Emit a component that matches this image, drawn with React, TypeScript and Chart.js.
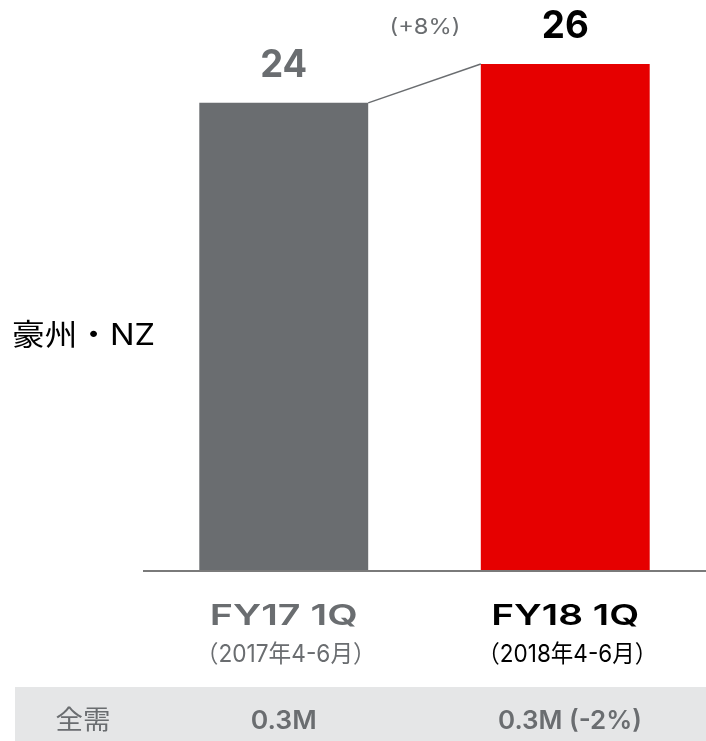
import React, { useEffect, useRef } from "react";
import { Chart, registerables } from "chart.js";

Chart.register(...registerables);

const categories = ["FY17 1Q", "FY18 1Q"];
const periods = ["（2017年4-6月）", "（2018年4-6月）"];
const values = [24, 26];
const totals = ["0.3M", "0.3M (-2%)"];
const changeLabel = "(+8%)";
const regionLabel = "豪州・NZ";
const totalLabel = "全需";
const barColors = ["#6a6d70", "#e60000"];
const labelColors = ["#6a6d70", "#000000"];

const LATIN = "Inter, 'Noto Sans', 'Noto Sans CJK JP', sans-serif";
const CJK = "Inter, 'Noto Sans CJK JP', sans-serif";

function fitText(ctx: any, text: string, x: number, y: number, width: number) {
  const w = ctx.measureText(text).width;
  ctx.save();
  ctx.translate(x, y);
  ctx.scale(width / w, 1);
  ctx.fillText(text, 0, 0);
  ctx.restore();
}

const overlay = {
  id: "overlay",
  afterDatasetsDraw(chart: any) {
    const ctx = chart.ctx;
    const area = chart.chartArea;
    const bars = chart.getDatasetMeta(0).data;
    ctx.save();
    // baseline
    ctx.strokeStyle = "#7a7a7a";
    ctx.lineWidth = 2;
    ctx.beginPath();
    ctx.moveTo(area.left, area.bottom + 1);
    ctx.lineTo(area.right, area.bottom + 1);
    ctx.stroke();
    // connector
    const b0 = bars[0], b1 = bars[1];
    ctx.strokeStyle = "#6a6d70";
    ctx.lineWidth = 1.5;
    ctx.beginPath();
    ctx.moveTo(b0.x + b0.width / 2, b0.y);
    ctx.lineTo(b1.x - b1.width / 2, b1.y);
    ctx.stroke();
    ctx.textAlign = "center";
    ctx.textBaseline = "alphabetic";
    // value labels
    bars.forEach((b: any, i: number) => {
      ctx.fillStyle = labelColors[i];
      ctx.font = `bold 38px ${LATIN}`;
      fitText(ctx, String(values[i]), b.x, b.y - 26, 47);
    });
    // change label
    ctx.fillStyle = "#6a6d70";
    ctx.font = `21px ${LATIN}`;
    fitText(ctx, changeLabel, 425, 34, 71);
    // region label
    ctx.textAlign = "left";
    ctx.fillStyle = "#000";
    ctx.font = `30px ${CJK}`;
    fitText(ctx, regionLabel, 12, 345, 143);
    // category labels
    ctx.textAlign = "center";
    bars.forEach((b: any, i: number) => {
      ctx.fillStyle = labelColors[i];
      ctx.font = `600 29px ${LATIN}`;
      fitText(ctx, categories[i], b.x, 625, 148);
      ctx.font = `24px ${CJK}`;
      fitText(ctx, periods[i], b.x + 2, 662, 180);
    });
    // bottom band
    ctx.fillStyle = "#e5e6e7";
    ctx.fillRect(15, 687, 706 - 15, 54);
    ctx.fillStyle = "#6a6d70";
    ctx.font = `26px ${CJK}`;
    fitText(ctx, totalLabel, 83, 729, 55);
    ctx.font = `600 26px ${LATIN}`;
    fitText(ctx, totals[0], b0.x, 729, 66);
    fitText(ctx, totals[1], 570, 729, 144);
    ctx.restore();
  },
};

export default function App() {
  const ref = useRef<HTMLCanvasElement>(null);
  useEffect(() => {
    const chart = new Chart(ref.current!, {
      type: "bar",
      data: {
        labels: categories,
        datasets: [
          {
            data: values,
            backgroundColor: barColors,
            barPercentage: 0.6,
            categoryPercentage: 1,
          },
        ],
      },
      options: {
        animation: false,
        responsive: true,
        maintainAspectRatio: false,
        layout: { padding: { left: 143, right: 0, top: 25, bottom: 171 } },
        plugins: { legend: { display: false }, tooltip: { enabled: false } },
        scales: {
          x: { display: false, offset: true },
          y: { display: false, min: 0, max: 28 },
        },
      },
      plugins: [overlay],
    });
    return () => chart.destroy();
  }, []);
  return (
    <div style={{ position: "fixed", left: 0, top: 0, width: 706, height: 741, background: "#fff" }}>
      <canvas ref={ref} />
    </div>
  );
}
